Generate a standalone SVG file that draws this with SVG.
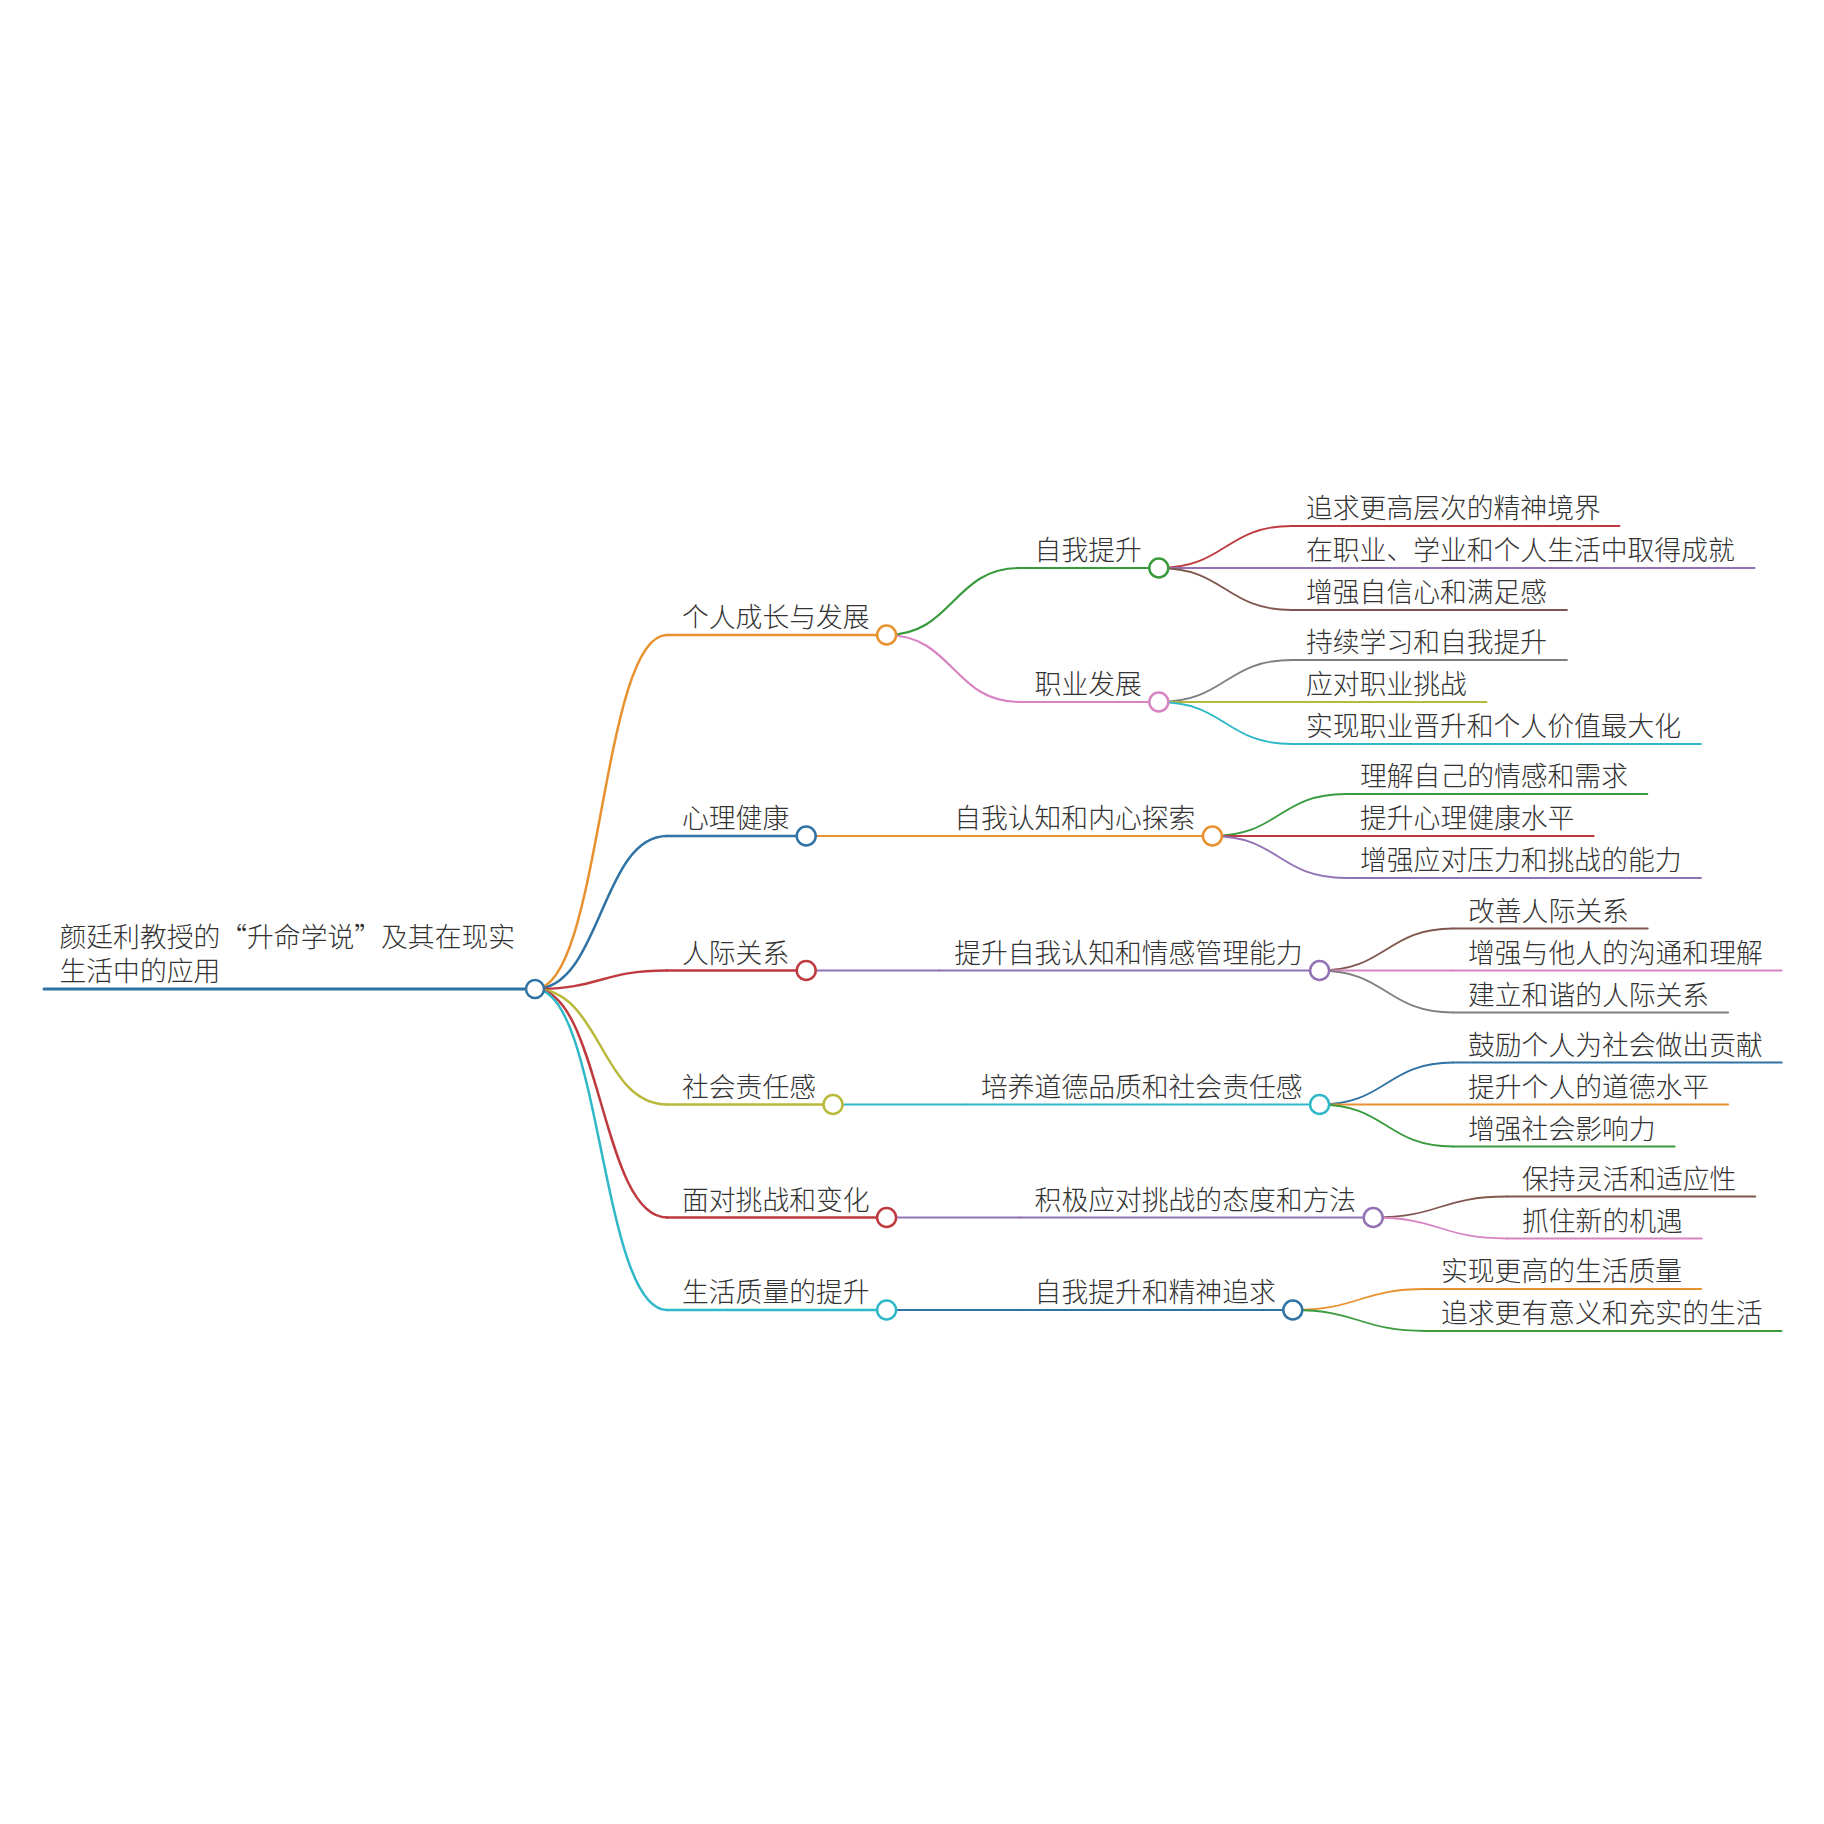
<svg xmlns="http://www.w3.org/2000/svg" width="1824" height="1824" viewBox="0 0 1824 1824">
<style>
text{font-family:"Noto Sans CJK SC","Noto Sans",sans-serif;font-size:26.8px;font-weight:300;fill:#333}
.c{fill:none;stroke-linecap:round}
.l0{stroke-width:3}
.l1{stroke-width:2.5}
.l2{stroke-width:2.2}
.l3{stroke-width:1.8}
.n{fill:#fff;stroke-width:2.5}
.blue{stroke:#2f72a4}.orange{stroke:#e8912e}.green{stroke:#3a9a3e}.red{stroke:#bf3a3f}.purple{stroke:#9272b4}
.brown{stroke:#80584f}.pink{stroke:#d883c2}.gray{stroke:#7f7f7f}.olive{stroke:#b8b93a}.cyan{stroke:#2fb8c8}
</style>
<rect width="1824" height="1824" fill="#fff"/>
<g id="connectors">
<path class="c l1 orange" d="M535,989 C601,989 601,635 667,635"/>
<path class="c l1 blue" d="M535,989 C601,989 601,836 667,836"/>
<path class="c l1 red" d="M535,989 C601,989 601,970.5 667,970.5"/>
<path class="c l1 olive" d="M535,989 C601,989 601,1104.5 667,1104.5"/>
<path class="c l1 red" d="M535,989 C601,989 601,1217.5 667,1217.5"/>
<path class="c l1 cyan" d="M535,989 C601,989 601,1310 667,1310"/>
<path class="c l2 green" d="M886.6,635 C953.1,635 953.1,568 1019.6,568"/>
<path class="c l2 pink" d="M886.6,635 C953.1,635 953.1,702 1019.6,702"/>
<path class="c l2 orange" d="M806.2,836 L939.2,836"/>
<path class="c l2 purple" d="M806.2,970.5 L939.2,970.5"/>
<path class="c l2 cyan" d="M833,1104.5 L966,1104.5"/>
<path class="c l2 purple" d="M886.6,1217.5 L1019.6,1217.5"/>
<path class="c l2 blue" d="M886.6,1310 L1019.6,1310"/>
<path class="c l3 red" d="M1158.8,568 C1225.3,568 1225.3,526 1291.8,526"/>
<path class="c l3 purple" d="M1158.8,568 L1291.8,568"/>
<path class="c l3 brown" d="M1158.8,568 C1225.3,568 1225.3,610 1291.8,610"/>
<path class="c l3 gray" d="M1158.8,702 C1225.3,702 1225.3,660 1291.8,660"/>
<path class="c l3 olive" d="M1158.8,702 L1291.8,702"/>
<path class="c l3 cyan" d="M1158.8,702 C1225.3,702 1225.3,744 1291.8,744"/>
<path class="c l3 green" d="M1212.4,836 C1278.9,836 1278.9,794 1345.4,794"/>
<path class="c l3 red" d="M1212.4,836 L1345.4,836"/>
<path class="c l3 purple" d="M1212.4,836 C1278.9,836 1278.9,878 1345.4,878"/>
<path class="c l3 brown" d="M1319.6,970.5 C1386.3,970.5 1386.3,928.5 1453,928.5"/>
<path class="c l3 pink" d="M1319.6,970.5 L1453,970.5"/>
<path class="c l3 gray" d="M1319.6,970.5 C1386.3,970.5 1386.3,1012.5 1453,1012.5"/>
<path class="c l3 blue" d="M1319.6,1104.5 C1386.3,1104.5 1386.3,1062.5 1453,1062.5"/>
<path class="c l3 orange" d="M1319.6,1104.5 L1453,1104.5"/>
<path class="c l3 green" d="M1319.6,1104.5 C1386.3,1104.5 1386.3,1146.5 1453,1146.5"/>
<path class="c l3 brown" d="M1373.2,1217.5 C1440.1,1217.5 1440.1,1196.5 1507,1196.5"/>
<path class="c l3 pink" d="M1373.2,1217.5 C1440.1,1217.5 1440.1,1238.5 1507,1238.5"/>
<path class="c l3 orange" d="M1292.8,1310 C1359.4,1310 1359.4,1289 1426,1289"/>
<path class="c l3 green" d="M1292.8,1310 C1359.4,1310 1359.4,1331 1426,1331"/>
</g>
<g id="root">
<path class="c l0 blue" d="M44,989 L535,989"/>
<text x="59.5" y="947">颜廷利教授的“升命学说”及其在现实</text>
<text x="59.5" y="981">生活中的应用</text>
<circle class="n blue" cx="535" cy="989" r="9"/>
</g>
<g id="n-a">
<path class="c l1 orange" d="M667,635 L886.6,635"/>
<text x="682" y="627">个人成长与发展</text>
<circle class="n orange" cx="886.6" cy="635" r="9.5"/>
</g>
<g id="n-a1">
<path class="c l2 green" d="M1019.6,568 L1158.8,568"/>
<text x="1034.6" y="560">自我提升</text>
<circle class="n green" cx="1158.8" cy="568" r="9.5"/>
</g>
<g id="n-a1-1"><path class="c l3 red" d="M1291.8,526 L1619.6,526"/><text x="1306" y="518">追求更高层次的精神境界</text></g>
<g id="n-a1-2"><path class="c l3 purple" d="M1291.8,568 L1754.6,568"/><text x="1306" y="560">在职业、学业和个人生活中取得成就</text></g>
<g id="n-a1-3"><path class="c l3 brown" d="M1291.8,610 L1567,610"/><text x="1306" y="602">增强自信心和满足感</text></g>
<g id="n-a2">
<path class="c l2 pink" d="M1019.6,702 L1158.8,702"/>
<text x="1034.6" y="694">职业发展</text>
<circle class="n pink" cx="1158.8" cy="702" r="9.5"/>
</g>
<g id="n-a2-1"><path class="c l3 gray" d="M1291.8,660 L1567,660"/><text x="1306" y="652">持续学习和自我提升</text></g>
<g id="n-a2-2"><path class="c l3 olive" d="M1291.8,702 L1486.6,702"/><text x="1306" y="694">应对职业挑战</text></g>
<g id="n-a2-3"><path class="c l3 cyan" d="M1291.8,744 L1701,744"/><text x="1306" y="736">实现职业晋升和个人价值最大化</text></g>
<g id="n-b">
<path class="c l1 blue" d="M667,836 L806.2,836"/>
<text x="682" y="828">心理健康</text>
<circle class="n blue" cx="806.2" cy="836" r="9.5"/>
</g>
<g id="n-b1">
<path class="c l2 orange" d="M939.2,836 L1212.4,836"/>
<text x="954.2" y="828">自我认知和内心探索</text>
<circle class="n orange" cx="1212.4" cy="836" r="9.5"/>
</g>
<g id="n-b1-1"><path class="c l3 green" d="M1345.4,794 L1647.4,794"/><text x="1360" y="786">理解自己的情感和需求</text></g>
<g id="n-b1-2"><path class="c l3 red" d="M1345.4,836 L1593.8,836"/><text x="1360" y="828">提升心理健康水平</text></g>
<g id="n-b1-3"><path class="c l3 purple" d="M1345.4,878 L1701,878"/><text x="1360" y="870">增强应对压力和挑战的能力</text></g>
<g id="n-c">
<path class="c l1 red" d="M667,970.5 L806.2,970.5"/>
<text x="682" y="962.5">人际关系</text>
<circle class="n red" cx="806.2" cy="970.5" r="9.5"/>
</g>
<g id="n-c1">
<path class="c l2 purple" d="M939.2,970.5 L1319.6,970.5"/>
<text x="954.2" y="962.5">提升自我认知和情感管理能力</text>
<circle class="n purple" cx="1319.6" cy="970.5" r="9.5"/>
</g>
<g id="n-c1-1"><path class="c l3 brown" d="M1453,928.5 L1647.8,928.5"/><text x="1468" y="920.5">改善人际关系</text></g>
<g id="n-c1-2"><path class="c l3 pink" d="M1453,970.5 L1781.8,970.5"/><text x="1468" y="962.5">增强与他人的沟通和理解</text></g>
<g id="n-c1-3"><path class="c l3 gray" d="M1453,1012.5 L1728.2,1012.5"/><text x="1468" y="1004.5">建立和谐的人际关系</text></g>
<g id="n-d">
<path class="c l1 olive" d="M667,1104.5 L833,1104.5"/>
<text x="682" y="1096.5">社会责任感</text>
<circle class="n olive" cx="833" cy="1104.5" r="9.5"/>
</g>
<g id="n-d1">
<path class="c l2 cyan" d="M966,1104.5 L1319.6,1104.5"/>
<text x="981" y="1096.5">培养道德品质和社会责任感</text>
<circle class="n cyan" cx="1319.6" cy="1104.5" r="9.5"/>
</g>
<g id="n-d1-1"><path class="c l3 blue" d="M1453,1062.5 L1781.8,1062.5"/><text x="1468" y="1054.5">鼓励个人为社会做出贡献</text></g>
<g id="n-d1-2"><path class="c l3 orange" d="M1453,1104.5 L1728.2,1104.5"/><text x="1468" y="1096.5">提升个人的道德水平</text></g>
<g id="n-d1-3"><path class="c l3 green" d="M1453,1146.5 L1674.6,1146.5"/><text x="1468" y="1138.5">增强社会影响力</text></g>
<g id="n-e">
<path class="c l1 red" d="M667,1217.5 L886.6,1217.5"/>
<text x="682" y="1209.5">面对挑战和变化</text>
<circle class="n red" cx="886.6" cy="1217.5" r="9.5"/>
</g>
<g id="n-e1">
<path class="c l2 purple" d="M1019.6,1217.5 L1373.2,1217.5"/>
<text x="1034.6" y="1209.5">积极应对挑战的态度和方法</text>
<circle class="n purple" cx="1373.2" cy="1217.5" r="9.5"/>
</g>
<g id="n-e1-1"><path class="c l3 brown" d="M1507,1196.5 L1755.4,1196.5"/><text x="1522" y="1188.5">保持灵活和适应性</text></g>
<g id="n-e1-2"><path class="c l3 pink" d="M1507,1238.5 L1701.8,1238.5"/><text x="1522" y="1230.5">抓住新的机遇</text></g>
<g id="n-f">
<path class="c l1 cyan" d="M667,1310 L886.6,1310"/>
<text x="682" y="1302">生活质量的提升</text>
<circle class="n cyan" cx="886.6" cy="1310" r="9.5"/>
</g>
<g id="n-f1">
<path class="c l2 blue" d="M1019.6,1310 L1292.8,1310"/>
<text x="1034.6" y="1302">自我提升和精神追求</text>
<circle class="n blue" cx="1292.8" cy="1310" r="9.5"/>
</g>
<g id="n-f1-1"><path class="c l3 orange" d="M1426,1289 L1701.2,1289"/><text x="1441" y="1281">实现更高的生活质量</text></g>
<g id="n-f1-2"><path class="c l3 green" d="M1426,1331 L1781.6,1331"/><text x="1441" y="1323">追求更有意义和充实的生活</text></g>
</svg>
